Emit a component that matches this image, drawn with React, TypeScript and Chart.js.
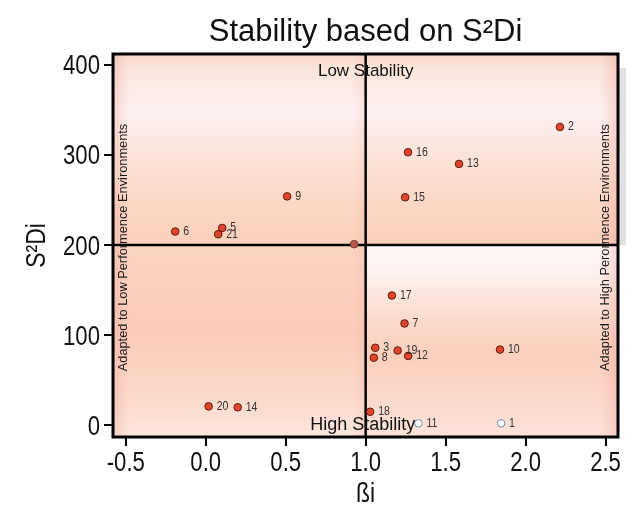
import React, { useEffect, useRef } from "react";
import { Chart, registerables } from "chart.js";

Chart.register(...registerables);

// ---- data ----
const genotypes = ["1", "2", "3", "4", "5", "6", "7", "8", "9", "10", "11", "12", "13", "14", "15", "16", "17", "18", "19", "20", "21"];
const betaValues = [1.847, 2.215, 1.06, 0.928, 0.103, -0.191, 1.243, 1.051, 0.509, 1.84, 1.33, 1.266, 1.584, 0.2, 1.247, 1.265, 1.164, 1.028, 1.2, 0.018, 0.078];
const s2diValues = [2.2, 331, 86, 201, 219, 215, 113, 75, 254, 84, 2.2, 77, 290, 20, 253, 303, 144, 15, 83, 21, 212];
const hollowGenotypes = ["1", "11"];
const mutedGenotypes = ["4"];
const unlabeledGenotypes = ["4"];
const xTickValues = [-0.5, 0, 0.5, 1.0, 1.5, 2.0, 2.5];
const xTickLabels = ["-0.5", "0.0", "0.5", "1.0", "1.5", "2.0", "2.5"];
const yTickValues = [0, 100, 200, 300, 400];
const yTickLabels = ["0", "100", "200", "300", "400"];
const betaSplit = 1.0;
const s2diSplit = 200;

const titleText = "Stability based on S\u00b2Di";
const xTitle = "\u00dfi";
const yTitle = "S\u00b2Di";
const topText = "Low Stability";
const bottomText = "High Stability";
const leftText = "Adapted to Low Performence Environments";
const rightText = "Adapted to High Perormence Environments";

const REG = '"Liberation Sans", Arial, sans-serif';
const CONDENSE = 0.82;

function vGrad(ctx: CanvasRenderingContext2D, y0: number, y1: number, stops: [number, string][]) {
  const g = ctx.createLinearGradient(0, y0, 0, y1);
  stops.forEach(([o, c]) => g.addColorStop(o, c));
  return g;
}

function hEdge(ctx: CanvasRenderingContext2D, x0: number, x1: number, y0: number, y1: number, color: string) {
  const g = ctx.createLinearGradient(x0, 0, x1, 0);
  g.addColorStop(0, color);
  g.addColorStop(1, "rgba(240,160,150,0)");
  ctx.fillStyle = g;
  ctx.fillRect(Math.min(x0, x1), y0, Math.abs(x1 - x0), y1 - y0);
}

function condensedText(
  ctx: CanvasRenderingContext2D,
  text: string,
  x: number,
  y: number,
  sx: number,
  align: CanvasTextAlign,
  baseline: CanvasTextBaseline,
  rotate = 0
) {
  ctx.save();
  ctx.translate(x, y);
  if (rotate) ctx.rotate(rotate);
  ctx.scale(sx, 1);
  ctx.textAlign = align;
  ctx.textBaseline = baseline;
  ctx.fillText(text, 0, 0);
  ctx.restore();
}

const quadrantPlugin = {
  id: "quadrants",
  beforeDatasetsDraw(chart: any) {
    const { ctx, chartArea: a, scales } = chart;
    const xs = scales.x, ys = scales.y;
    const xm = xs.getPixelForValue(betaSplit);
    const ym = ys.getPixelForValue(s2diSplit);
    ctx.save();
    // shadow on the right
    ctx.fillStyle = "rgba(120,120,120,0.22)";
    ctx.fillRect(a.right + 1, a.top + 14, 7, ym - a.top - 14);
    // upper panels
    const upper: [number, string][] = [
      [0, "#f7d6c6"], [0.07, "#fbe4da"], [0.3, "#fdf0f1"], [0.55, "#fce3d8"], [0.8, "#fbd7c4"], [1, "#fad0bb"],
    ];
    ctx.fillStyle = vGrad(ctx, a.top, ym, upper);
    ctx.fillRect(a.left, a.top, xm - a.left, ym - a.top);
    ctx.fillRect(xm, a.top, a.right - xm, ym - a.top);
    // lower left
    ctx.fillStyle = vGrad(ctx, ym, a.bottom, [
      [0, "#fbd4c3"], [0.45, "#facbb8"], [0.8, "#fcd9cb"], [1, "#fde6dd"],
    ]);
    ctx.fillRect(a.left, ym, xm - a.left, a.bottom - ym);
    // lower right
    ctx.fillStyle = vGrad(ctx, ym, a.bottom, [
      [0, "#fffafa"], [0.12, "#fef2f1"], [0.4, "#fcdacb"], [0.58, "#fbcfbd"], [0.85, "#fcdbcf"], [1, "#fde3d9"],
    ]);
    ctx.fillRect(xm, ym, a.right - xm, a.bottom - ym);
    // edge tints
    hEdge(ctx, a.left, a.left + 16, a.top, a.bottom, "rgba(238,165,158,0.35)");
    hEdge(ctx, a.right, a.right - 18, a.top, a.bottom, "rgba(232,150,145,0.35)");
    hEdge(ctx, xm, xm - 12, a.top, a.bottom, "rgba(238,170,160,0.22)");

    // side texts
    ctx.fillStyle = "#1a1a1a";
    ctx.font = `12.8px ${REG}`;
    const midY = (a.top + a.bottom) / 2 + 2;
    condensedText(ctx, leftText, a.left + 10, midY, 1, "center", "middle", -Math.PI / 2);
    condensedText(ctx, rightText, a.right - 13, midY, 1, "center", "middle", -Math.PI / 2);

    // split lines
    ctx.strokeStyle = "#000";
    ctx.lineWidth = 2.5;
    ctx.beginPath();
    ctx.moveTo(a.left, ym);
    ctx.lineTo(a.right, ym);
    ctx.moveTo(xm, a.top);
    ctx.lineTo(xm, a.bottom);
    ctx.stroke();

    // frame
    ctx.lineWidth = 3;
    ctx.strokeRect(a.left, a.top, a.right - a.left, a.bottom - a.top);

    // stability texts
    ctx.fillStyle = "#111";
    ctx.font = `17px ${REG}`;
    condensedText(ctx, topText, xm, a.top + 22, 1, "center", "alphabetic");
    ctx.font = `18px ${REG}`;
    condensedText(ctx, bottomText, xm - 3, a.bottom - 7, 1, "center", "alphabetic");

    // tick labels
    ctx.fillStyle = "#111";
    ctx.font = `27px ${REG}`;
    xTickValues.forEach((v, i) => {
      condensedText(ctx, xTickLabels[i], xs.getPixelForValue(v), a.bottom + 34, CONDENSE, "center", "alphabetic");
    });
    yTickValues.forEach((v, i) => {
      condensedText(ctx, yTickLabels[i], a.left - 13, ys.getPixelForValue(v) + 9.5, CONDENSE, "right", "alphabetic");
    });
    ctx.restore();
  },
  afterDatasetsDraw(chart: any) {
    const { ctx, chartArea: a } = chart;
    const meta = chart.getDatasetMeta(0);
    ctx.save();
    ctx.fillStyle = "#333";
    ctx.font = `12px ${REG}`;
    meta.data.forEach((pt: any, i: number) => {
      const g = genotypes[i];
      if (unlabeledGenotypes.includes(g)) return;
      condensedText(ctx, g, pt.x + 8, pt.y, 0.88, "left", "middle");
    });
    // title
    ctx.fillStyle = "#111";
    ctx.font = `31px ${REG}`;
    condensedText(ctx, titleText, (a.left + a.right) / 2, 33, 1, "center", "alphabetic");
    // axis titles
    ctx.font = `28px ${REG}`;
    condensedText(ctx, xTitle, chart.scales.x.getPixelForValue(betaSplit), 494, CONDENSE, "center", "alphabetic");
    condensedText(ctx, yTitle, 29, (a.top + a.bottom) / 2, CONDENSE, "center", "middle", -Math.PI / 2);
    ctx.restore();
  },
};

export default function App() {
  const ref = useRef<HTMLCanvasElement | null>(null);
  useEffect(() => {
    if (!ref.current) return;
    const points = genotypes.map((_, i) => ({ x: betaValues[i], y: s2diValues[i] }));
    const fill = genotypes.map((g) =>
      hollowGenotypes.includes(g) ? "#ffffff" : mutedGenotypes.includes(g) ? "#b4574c" : "#e2452a"
    );
    const stroke = genotypes.map((g) =>
      hollowGenotypes.includes(g) ? "#6f8aa8" : mutedGenotypes.includes(g) ? "#7a3a32" : "#5b1c12"
    );
    const chart = new Chart(ref.current, {
      type: "scatter",
      data: {
        datasets: [
          {
            label: "Genotypes",
            data: points,
            backgroundColor: fill,
            borderColor: stroke,
            borderWidth: 1,
            pointRadius: 3.8,
          },
        ],
      },
      options: {
        responsive: false,
        animation: false,
        layout: { padding: { top: 46, right: 11, left: 0, bottom: 0 } },
        plugins: { legend: { display: false }, tooltip: { enabled: false }, title: { display: false } },
        scales: {
          x: {
            type: "linear",
            min: -0.58,
            max: 2.578,
            afterBuildTicks: (s: any) => {
              s.ticks = xTickValues.map((v) => ({ value: v }));
            },
            afterFit: (s: any) => {
              s.height = 67;
            },
            ticks: { display: false },
            grid: { drawOnChartArea: false, drawTicks: true, tickLength: 9, color: "#000", lineWidth: 2 },
            border: { display: false },
          },
          y: {
            type: "linear",
            min: -13,
            max: 412,
            afterBuildTicks: (s: any) => {
              s.ticks = yTickValues.map((v) => ({ value: v }));
            },
            afterFit: (s: any) => {
              s.width = 105;
            },
            ticks: { display: false },
            grid: { drawOnChartArea: false, drawTicks: true, tickLength: 9, color: "#000", lineWidth: 2 },
            border: { display: false },
          },
        },
      },
      plugins: [quadrantPlugin],
    });
    return () => chart.destroy();
  }, []);
  return <canvas ref={ref} width={621} height={496} style={{ display: "block" }} />;
}
